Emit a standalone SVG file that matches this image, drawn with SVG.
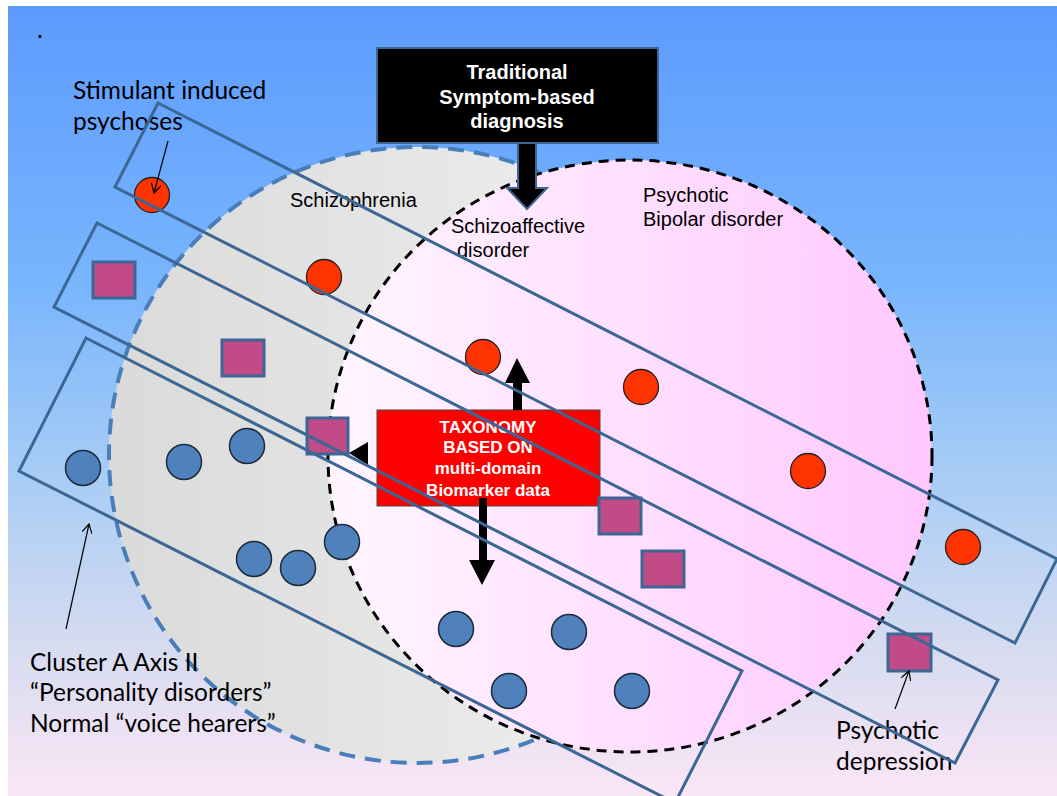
<svg xmlns="http://www.w3.org/2000/svg" width="1057" height="796" viewBox="0 0 1057 796">
<defs>
<linearGradient id="bg" x1="0" y1="0" x2="0" y2="1">
<stop offset="0" stop-color="#5c9bfe"/>
<stop offset="0.35" stop-color="#78b5fd"/>
<stop offset="0.6" stop-color="#a9cdf5"/>
<stop offset="0.82" stop-color="#d8dcf0"/>
<stop offset="1" stop-color="#fbe6f6"/>
</linearGradient>
<linearGradient id="gray" x1="0" y1="0" x2="1" y2="0">
<stop offset="0" stop-color="#dadada"/>
<stop offset="1" stop-color="#f2f2f2"/>
</linearGradient>
<linearGradient id="pink" x1="0" y1="0" x2="1" y2="0">
<stop offset="0" stop-color="#fff6ff"/>
<stop offset="1" stop-color="#ffc8ff"/>
</linearGradient>
<marker id="open" viewBox="0 0 10 10" refX="9" refY="5" markerWidth="10" markerHeight="10" markerUnits="userSpaceOnUse" orient="auto">
<path d="M0,0 L9,5 L0,10" fill="none" stroke="#000" stroke-width="1.2"/>
</marker>
<style>
.band{fill:none;stroke:#3c6795;stroke-width:3}
.red{fill:#ff3300;stroke:#222;stroke-width:1.3}
.blue{fill:#4f81bd;stroke:#1e2a3a;stroke-width:1.5}
.sq{fill:#c04b86;stroke:#3c6795;stroke-width:3}
.cal{font-family:Lato,"Open Sans",sans-serif;font-size:24.5px;fill:#000}
.hel{font-family:"Liberation Sans",Arial,sans-serif;font-size:20px;fill:#000}
.wb{font-family:"Liberation Sans",Arial,sans-serif;font-weight:bold;fill:#fff;text-anchor:middle}
.thin{stroke:#000;stroke-width:1.2;fill:none}
</style>
</defs>
<rect x="8" y="6" width="1049" height="790" fill="url(#bg)"/>
<g id="schizophrenia">
<circle cx="417" cy="455" r="308" fill="url(#gray)" stroke="#4a7ebb" stroke-width="4" stroke-dasharray="16 10"/>
</g>
<g id="bipolar">
<ellipse cx="630" cy="456" rx="302" ry="296" fill="url(#pink)" stroke="#000" stroke-width="3" stroke-dasharray="10 7"/>
</g>
<g id="labels">
<text class="cal" x="37" y="38">.</text>
<text class="cal" x="73" y="99">Stimulant induced</text>
<text class="cal" x="73" y="130">psychoses</text>
<text class="hel" x="290" y="207">Schizophrenia</text>
<text class="hel" x="451" y="233">Schizoaffective</text>
<text class="hel" x="457" y="257">disorder</text>
<text class="hel" x="643" y="202">Psychotic</text>
<text class="hel" x="643" y="226">Bipolar disorder</text>
<text class="cal" x="30" y="671">Cluster A Axis II</text>
<text class="cal" x="30" y="701">“Personality disorders”</text>
<text class="cal" x="30" y="732">Normal “voice hearers”</text>
<text class="cal" x="836" y="739">Psychotic</text>
<text class="cal" x="836" y="770">depression</text>
</g>
<g id="traditional">
<rect x="377" y="48" width="281" height="95" fill="#000" stroke="#3c6795" stroke-width="2"/>
<text class="wb" x="517" y="79" font-size="20">Traditional</text>
<text class="wb" x="517" y="104" font-size="20">Symptom-based</text>
<text class="wb" x="517" y="128" font-size="20">diagnosis</text>
</g>
<g id="taxonomy">
<rect x="377" y="410" width="223" height="96" fill="#ff0000" stroke="#444" stroke-width="1"/>
<text class="wb" x="488" y="433" font-size="17">TAXONOMY</text>
<text class="wb" x="488" y="453" font-size="17">BASED ON</text>
<text class="wb" x="488" y="474" font-size="17">multi-domain</text>
<text class="wb" x="488" y="496" font-size="17">Biomarker data</text>
</g>
<g id="points">
<circle class="red" cx="152" cy="195" r="17.5"/>
<circle class="red" cx="324" cy="277" r="17.5"/>
<circle class="red" cx="483" cy="357" r="17.5"/>
<circle class="red" cx="641" cy="387" r="17.5"/>
<circle class="red" cx="808" cy="471" r="17.5"/>
<circle class="red" cx="963" cy="547" r="17.5"/>
<rect class="sq" x="93" y="262" width="42" height="36"/>
<rect class="sq" x="222" y="340" width="42" height="36"/>
<rect class="sq" x="307" y="418" width="41" height="36"/>
<rect class="sq" x="599" y="498" width="42" height="36"/>
<rect class="sq" x="642" y="551" width="42" height="36"/>
<rect class="sq" x="888" y="634" width="43" height="37"/>
<circle class="blue" cx="83" cy="468" r="17.5"/>
<circle class="blue" cx="184" cy="462" r="17.5"/>
<circle class="blue" cx="247" cy="446" r="17.5"/>
<circle class="blue" cx="254" cy="559" r="17.5"/>
<circle class="blue" cx="298" cy="568" r="17.5"/>
<circle class="blue" cx="342" cy="542" r="17.5"/>
<circle class="blue" cx="456" cy="629" r="17.5"/>
<circle class="blue" cx="569" cy="632" r="17.5"/>
<circle class="blue" cx="509" cy="691" r="17.5"/>
<circle class="blue" cx="632" cy="691" r="17.5"/>
</g>
<g id="connectors">
<polygon points="518,143 536,143 536,188 547,188 527,209 507,188 518,188" fill="#000" stroke="#3c6795" stroke-width="2"/>
<polygon points="513,410 522,410 522,383 530,383 517,358 505,383 513,383" fill="#000"/>
<polygon points="479,498 487,498 487,560 495,560 482,585 469,560 479,560" fill="#000"/>
<polygon points="349,453 368,442 368,465" fill="#000"/>
<line class="thin" x1="168" y1="141" x2="154" y2="193" marker-end="url(#open)"/>
<line class="thin" x1="66" y1="629" x2="89" y2="524" marker-end="url(#open)"/>
<line class="thin" x1="895" y1="709" x2="909" y2="671" marker-end="url(#open)"/>
<polygon class="band" points="158,103 1057,559 1015,643 115,187"/>
<polygon class="band" points="97,223 998,680 955,763 54,307"/>
<polygon class="band" points="86,338 742,671 675,803 19,471"/>
</g>
</svg>
